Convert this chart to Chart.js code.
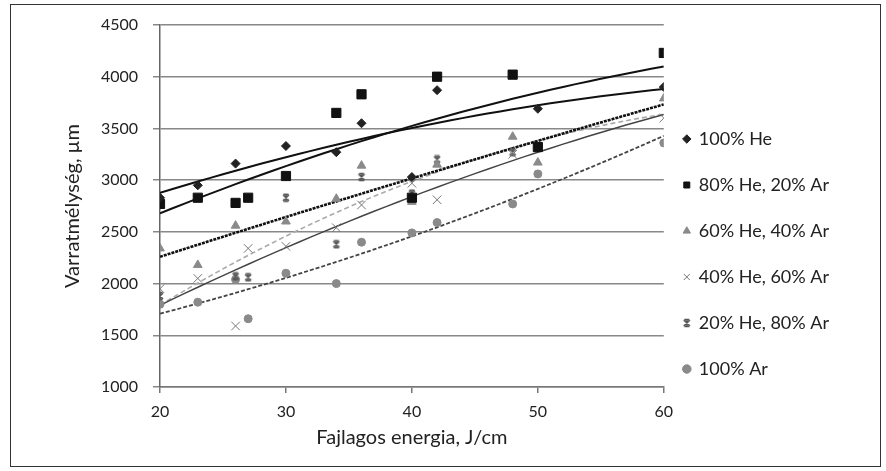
<!DOCTYPE html>
<html lang="hu">
<head>
<meta charset="UTF-8">
<title>Varratmélység</title>
<script src="https://cdn.jsdelivr.net/npm/chart.js"></script>
<style>
  html, body { margin: 0; padding: 0; background: #fff; }
  .wrap { position: relative; width: 886px; height: 471px; }
</style>
</head>
<body>
<div class="wrap"><canvas id="weldChart"></canvas></div>
<script>
// energy values (J/cm), shared by every series; null = no point at that energy
const energies = [20, 23, 26, 27, 30, 34, 36, 40, 42, 48, 50, 60];

const he100    = [2830, 2950, 3160, null, 3330, 3270, 3550, 3030, 3870, null, 3690, 3900];
const he80ar20 = [2770, 2830, 2780, 2830, 3040, 3650, 3830, 2830, 4000, 4020, 3320, 4230];
const he60ar40 = [2340, 2180, 2560, null, 2600, 2820, 3140, 2790, 3150, 3420, 3170, 3790];
const he40ar60 = [1950, 2050, 1590, 2340, 2360, 2540, 2760, 2970, 2810, 3250, null, 3600];
const he20ar80 = [1880, null, 2070, 2060, 2830, 2380, 3030, 2870, 3200, 3270, null, null];
const ar100    = [1800, 1820, 2040, 1660, 2100, 2000, 2400, 2490, 2590, 2770, 3060, 3360];

const seriesNames = ['100% He', '80% He, 20% Ar', '60% He, 40% Ar', '40% He, 60% Ar', '20% He, 80% Ar', '100% Ar'];
const yTicks = [1000, 1500, 2000, 2500, 3000, 3500, 4000, 4500];
const xTicks = [20, 30, 40, 50, 60];

// "star" marker (x with a vertical bar), like the spreadsheet one
function starMarker(color) {
  const c = document.createElement('canvas');
  c.width = 10; c.height = 10;
  const g = c.getContext('2d');
  g.strokeStyle = color;
  g.lineWidth = 1.6;
  g.beginPath();
  g.moveTo(2, 2); g.lineTo(8, 8);
  g.moveTo(8, 2); g.lineTo(2, 8);
  g.moveTo(5, 1); g.lineTo(5, 9);
  g.moveTo(2.5, 1.5); g.lineTo(7.5, 1.5);
  g.moveTo(2.5, 8.5); g.lineTo(7.5, 8.5);
  g.stroke();
  return c;
}

// polynomial (order 2) trendline, least squares
function quadFit(xs, ys) {
  const rows = [[0, 0, 0, 0], [0, 0, 0, 0], [0, 0, 0, 0]];
  xs.forEach((x, i) => {
    if (ys[i] == null) return;
    const t = x - 40;
    const p = [1, t, t * t];
    for (let r = 0; r < 3; r++) {
      for (let k = 0; k < 3; k++) rows[r][k] += p[r] * p[k];
      rows[r][3] += p[r] * ys[i];
    }
  });
  for (let r = 0; r < 3; r++) {
    for (let q = r + 1; q < 3; q++) {
      const f = rows[q][r] / rows[r][r];
      for (let k = r; k < 4; k++) rows[q][k] -= f * rows[r][k];
    }
  }
  const coef = [0, 0, 0];
  for (let r = 2; r >= 0; r--) {
    let s = rows[r][3];
    for (let k = r + 1; k < 3; k++) s -= rows[r][k] * coef[k];
    coef[r] = s / rows[r][r];
  }
  const out = [];
  for (let x = 20; x <= 60; x += 1) {
    const t = x - 40;
    out.push({ x: x, y: coef[0] + coef[1] * t + coef[2] * t * t });
  }
  return out;
}

function toPoints(ys) {
  return energies.map((x, i) => ({ x: x, y: ys[i] })).filter(p => p.y != null);
}

const allSeries = [he100, he80ar20, he60ar40, he40ar60, he20ar80, ar100];
const markers = [
  { style: 'rectRot', color: '#222', r: 4.5 },
  { style: 'rect', color: '#111', r: 6.5 },
  { style: 'triangle', color: '#8a8a8a', r: 5 },
  { style: 'crossRot', color: '#777', r: 6 },
  { style: starMarker('#555'), color: '#555', r: 5 },
  { style: 'circle', color: '#8a8a8a', r: 4 }
];
const trendStyles = [
  { color: '#111', width: 2, dash: [] },
  { color: '#111', width: 2, dash: [] },
  { color: '#111', width: 2.6, dash: [3, 1] },
  { color: '#444', width: 1.5, dash: [] },
  { color: '#aaa', width: 1.6, dash: [5, 3] },
  { color: '#444', width: 1.8, dash: [4, 2] }
];

const datasets = [];
allSeries.forEach((ys, i) => {
  datasets.push({
    label: seriesNames[i],
    data: toPoints(ys),
    pointStyle: markers[i].style,
    pointRadius: markers[i].r,
    backgroundColor: markers[i].color,
    borderColor: markers[i].color,
    borderWidth: 1,
    showLine: false,
    order: 1
  });
});
allSeries.forEach((ys, i) => {
  datasets.push({
    label: seriesNames[i] + ' trend',
    data: quadFit(energies, ys),
    showLine: true,
    pointRadius: 0,
    borderColor: trendStyles[i].color,
    borderWidth: trendStyles[i].width,
    borderDash: trendStyles[i].dash,
    fill: false,
    order: 2
  });
});

const framePlugin = {
  id: 'frame',
  afterLayout(chart) {
    // nudge the legend closer to the plot, as in the original
    chart.legend.left -= 8;
    chart.legend.right -= 8;
    chart.legend.top += 8;
    chart.legend.bottom += 8;
  },
  beforeDraw(chart) {
    const ctx = chart.ctx;
    ctx.save();
    ctx.fillStyle = '#fff';
    ctx.fillRect(0, 0, chart.width, chart.height);
    ctx.strokeStyle = '#333';
    ctx.lineWidth = 1;
    ctx.strokeRect(10.5, 4.5, 870, 462);
    ctx.restore();
  }
};

const font = 'Lato, "Open Sans", sans-serif';

new Chart(document.getElementById('weldChart'), {
  type: 'scatter',
  data: { datasets: datasets },
  plugins: [framePlugin],
  options: {
    responsive: true,
    maintainAspectRatio: false,
    animation: false,
    events: [],
    layout: { padding: { left: 10, top: 25, right: 39, bottom: 4 } },
    plugins: {
      tooltip: { enabled: false },
      legend: {
        position: 'right',
        labels: {
          usePointStyle: true,
          boxWidth: 6,
          boxHeight: 6,
          padding: 28,
          color: '#222',
          font: { family: font, size: 18 },
          filter: item => item.datasetIndex < 6
        }
      }
    },
    scales: {
      x: {
        type: 'linear',
        min: 20,
        max: 60,
        afterBuildTicks: s => { s.ticks = xTicks.map(v => ({ value: v })); },
        afterFit: s => { s.height = 80; },
        ticks: { color: '#222', font: { family: font, size: 16 }, padding: 9 },
        grid: { drawOnChartArea: false, drawTicks: true, tickLength: 6, color: '#777', lineWidth: 1.5 },
        border: { display: true, color: '#777', width: 1.5 },
        title: {
          display: true,
          text: 'Fajlagos energia, J/cm',
          color: '#222',
          font: { family: font, size: 20 },
          padding: { top: 0, bottom: 17 }
        }
      },
      y: {
        min: 1000,
        max: 4500,
        afterBuildTicks: s => { s.ticks = yTicks.map(v => ({ value: v })); },
        afterFit: s => { s.width = 150; },
        ticks: { color: '#222', font: { family: font, size: 16 }, padding: 15, callback: v => String(v) },
        grid: { color: '#888', lineWidth: 1.5, tickLength: 7 },
        border: { display: true, color: '#666', width: 1.5 },
        title: {
          display: true,
          text: 'Varratmélység, µm',
          color: '#222',
          font: { family: font, size: 20 },
          padding: { top: 51, bottom: 0 }
        }
      }
    }
  }
});
</script>
</body>
</html>
